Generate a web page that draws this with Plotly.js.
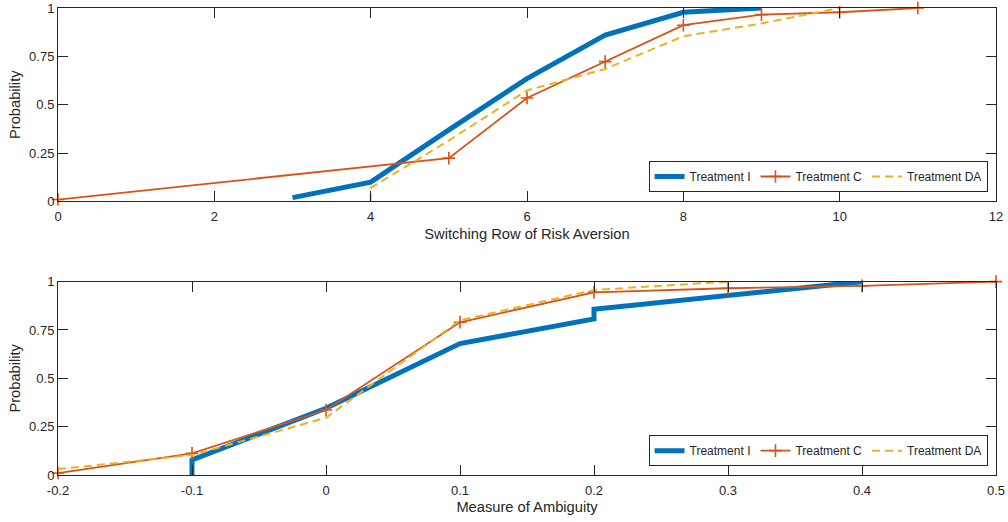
<!DOCTYPE html>
<html>
<head>
<meta charset="utf-8">
<script src="https://cdn.plot.ly/plotly-3.0.1.min.js"></script>
<style>html,body{margin:0;padding:0;background:#fff}#chart{width:1008px;height:522px}</style>
</head>
<body>
<div id="chart"></div>
<script>
// Top panel: Switching Row of Risk Aversion
var riskI_x = [3, 4, 5, 6, 7, 8, 9];
var riskI_y = [0.02, 0.10, 0.37, 0.635, 0.86, 0.978, 1.0];
var riskC_x = [0, 5, 6, 7, 8, 9, 10, 11];
var riskC_y = [0.01, 0.224, 0.535, 0.723, 0.911, 0.966, 0.978, 1.0];
var riskDA_x = [4, 4, 5, 6, 7, 8, 9, 10];
var riskDA_y = [0.0, 0.07, 0.315, 0.574, 0.685, 0.854, 0.92, 1.0];

// Bottom panel: Measure of Ambiguity
var ambI_x = [-0.1, -0.1, 0, 0.1, 0.2, 0.2, 0.4];
var ambI_y = [0.0, 0.078, 0.345, 0.68, 0.807, 0.857, 1.0];
var ambC_x = [-0.2, -0.1, 0, 0.1, 0.2, 0.3, 0.4, 0.5];
var ambC_y = [0.01, 0.112, 0.336, 0.79, 0.945, 0.966, 0.978, 1.0];
var ambDA_x = [-0.2, -0.1, 0, 0.1, 0.2, 0.3];
var ambDA_y = [0.03, 0.103, 0.296, 0.80, 0.957, 1.0];

var names = ['Treatment I', 'Treatment C', 'Treatment DA'];
var yTicks = [0, 0.25, 0.5, 0.75, 1];
var yTickText = ['0', '0.25', '0.5', '0.75', '1'];
var topTicks = [0, 2, 4, 6, 8, 10, 12];
var botTicks = [-0.2, -0.1, 0, 0.1, 0.2, 0.3, 0.4, 0.5];
var botTickText = ['-0.2', '-0.1', '0', '0.1', '0.2', '0.3', '0.4', '0.5'];

var BLUE = '#0072BD', ORANGE = '#D95319', YELLOW = '#EDB120', AX = '#262626';
var FONT = 'Liberation Sans, Arial, Helvetica, sans-serif';

function mk(x, y, i, xa, ya, leg) {
  var t = {x: x, y: y, name: names[i], xaxis: xa, yaxis: ya, legend: leg, type: 'scatter', mode: 'lines'};
  if (i === 0) { t.line = {color: BLUE, width: 5}; }
  if (i === 1) {
    t.mode = 'lines+markers';
    t.line = {color: ORANGE, width: 1.8};
    t.marker = {symbol: 'cross-thin', size: 9, color: ORANGE, line: {color: ORANGE, width: 1.6}};
    t.cliponaxis = false;
  }
  if (i === 2) t.line = {color: YELLOW, width: 2, dash: '8px,5px'};
  return t;
}

var data = [
  mk(riskI_x, riskI_y, 0, 'x', 'y', 'legend'),
  mk(riskC_x, riskC_y, 1, 'x', 'y', 'legend'),
  mk(riskDA_x, riskDA_y, 2, 'x', 'y', 'legend'),
  mk(ambI_x, ambI_y, 0, 'x2', 'y2', 'legend2'),
  mk(ambC_x, ambC_y, 1, 'x2', 'y2', 'legend2'),
  mk(ambDA_x, ambDA_y, 2, 'x2', 'y2', 'legend2')
];

function xax(range, ticks, text, title, anchor) {
  var a = {range: range, tickvals: ticks, anchor: anchor, domain: [0, 1],
    showgrid: false, zeroline: false, showline: true, linecolor: AX, linewidth: 1,
    mirror: 'ticks', ticks: 'inside', ticklen: 10, tickcolor: AX, tickwidth: 1,
    ticklabelstandoff: 3,
    tickfont: {family: FONT, size: 13, color: AX},
    title: {text: title, font: {family: FONT, size: 14.7, color: AX}, standoff: 5}};
  if (text) a.ticktext = text;
  return a;
}
function yax(domain, anchor) {
  return {range: [0, 1], domain: domain, anchor: anchor, tickvals: yTicks, ticktext: yTickText,
    showgrid: false, zeroline: false, showline: true, linecolor: AX, linewidth: 1,
    mirror: 'ticks', ticks: 'inside', ticklen: 10, tickcolor: AX, tickwidth: 1,
    tickfont: {family: FONT, size: 13, color: AX},
    title: {text: 'Probability', font: {family: FONT, size: 14.7, color: AX}, standoff: 4}};
}

var legStyle = function (y) {
  return {orientation: 'h', x: 0.991, xanchor: 'right', y: y, yanchor: 'bottom',
    bgcolor: '#ffffff', bordercolor: AX, borderwidth: 1,
    font: {family: FONT, size: 12, color: AX}, itemwidth: 30, tracegroupgap: 0};
};

var layout = {
  width: 1008, height: 522,
  margin: {l: 58, r: 12, t: 8, b: 47},
  paper_bgcolor: '#ffffff', plot_bgcolor: '#ffffff',
  showlegend: true,
  xaxis: xax([0, 12], topTicks, null, 'Switching Row of Risk Aversion', 'y'),
  yaxis: yax([0.5857, 1], 'x'),
  xaxis2: xax([-0.2, 0.5], botTicks, botTickText, 'Measure of Ambiguity', 'y2'),
  yaxis2: yax([0, 0.414], 'x2'),
  legend: legStyle(0.606),
  legend2: legStyle(0.019)
};

Plotly.newPlot('chart', data, layout, {displayModeBar: false, staticPlot: true});
</script>
</body>
</html>
